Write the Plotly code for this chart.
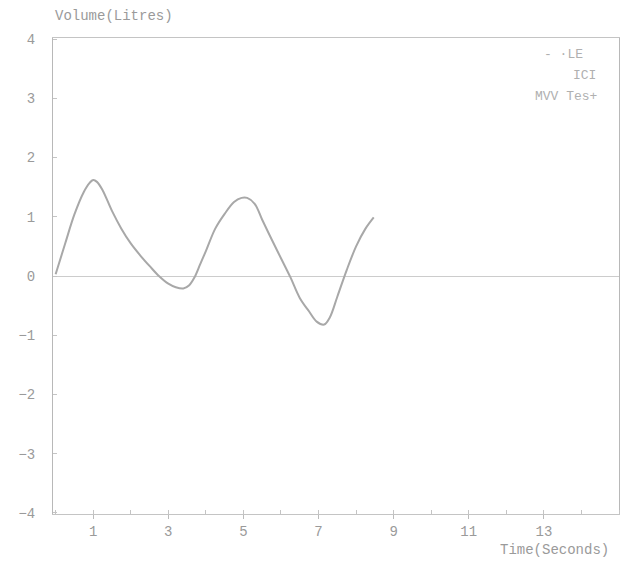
import plotly.graph_objects as go

time_s = [0.0, 0.25, 0.5, 0.75, 0.9, 1.0, 1.1, 1.25, 1.5, 1.75, 2.0, 2.25, 2.5, 2.75, 3.0, 3.2, 3.4, 3.55, 3.7, 3.85, 4.0, 4.25, 4.5, 4.75, 4.95, 5.1, 5.3, 5.5, 5.75, 6.0, 6.25, 6.5, 6.75, 6.95, 7.15, 7.3, 7.5, 7.75, 8.0, 8.25, 8.47]
volume_l = [0.03, 0.54, 1.04, 1.42, 1.57, 1.62, 1.59, 1.45, 1.1, 0.8, 0.55, 0.35, 0.17, 0.0, -0.13, -0.19, -0.21, -0.16, -0.02, 0.2, 0.42, 0.8, 1.05, 1.25, 1.32, 1.32, 1.22, 0.95, 0.62, 0.3, -0.02, -0.37, -0.6, -0.77, -0.82, -0.7, -0.35, 0.1, 0.5, 0.8, 0.99]

x_ticks = [1, 3, 5, 7, 9, 11, 13]
y_ticks = [-4, -3, -2, -1, 0, 1, 2, 3, 4]
legend_lines = ["- ·LE", "ICI", "MVV Tes+"]

grey = "#9a9a9a"
font = "Liberation Mono, Courier New, monospace"

fig = go.Figure()
fig.add_trace(go.Scatter(x=time_s, y=volume_l, mode="lines",
                         line=dict(color="#a8a8a8", width=2, shape="spline", smoothing=1.0),
                         showlegend=False, hoverinfo="skip"))

fig.update_layout(
    width=622, height=566,
    margin=dict(l=53, r=3, t=38, b=52),
    paper_bgcolor="white", plot_bgcolor="white",
    font=dict(family=font, size=14, color=grey),
    showlegend=False,
)
fig.update_xaxes(range=[-0.07, 15], tickvals=x_ticks, ticks="outside", ticklen=4,
                 tickcolor="#bbbbbb", showgrid=False, zeroline=False,
                 showline=True, linecolor="#c4c4c4", linewidth=1, mirror=True,
                 minor=dict(tickvals=list(range(0, 16)), ticks="inside", ticklen=4, tickcolor="#c4c4c4"),
                 tickfont=dict(family=font, size=14, color=grey), automargin=False)
fig.update_yaxes(range=[-4.02, 4.02], tickvals=y_ticks, ticks="inside", ticklen=4,
                 tickcolor="#c4c4c4", showgrid=False, zeroline=True, zerolinecolor="#cccccc",
                 zerolinewidth=1, showline=True, linecolor="#b8b8b8", linewidth=1, mirror=True,
                 ticklabelstandoff=14,
                 tickfont=dict(family=font, size=14, color=grey), automargin=False)

fig.add_annotation(text="Volume(Litres)", xref="paper", yref="paper", x=0, y=1.0,
                   xanchor="left", yanchor="bottom", yshift=12, showarrow=False,
                   font=dict(family=font, size=14, color=grey))
fig.add_annotation(text="Time(Seconds)", xref="paper", yref="paper", x=0.985, y=0,
                   xanchor="right", yanchor="top", yshift=-26, showarrow=False,
                   font=dict(family=font, size=14, color=grey))
legend_x = [0.94, 0.963, 0.967]
for i, t in enumerate(legend_lines):
    fig.add_annotation(text=t, xref="paper", yref="paper", x=legend_x[i], y=0.966 - i * 0.044,
                       xanchor="right", yanchor="middle", showarrow=False,
                       font=dict(family=font, size=13, color="#b0b0b0"))

fig.write_html("out.html", config={"displayModeBar": False},
               post_script="document.body.style.margin='0';document.body.style.overflow='hidden';")
